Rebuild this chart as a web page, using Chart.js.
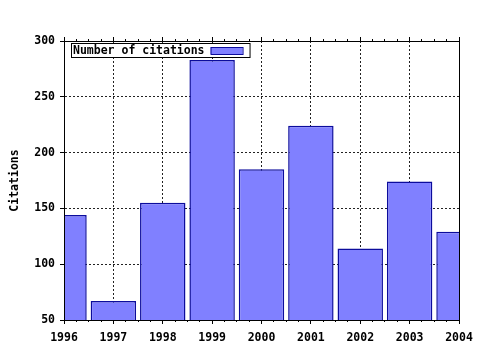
<!DOCTYPE html>
<html>
<head>
<meta charset="utf-8">
<script src="https://cdn.jsdelivr.net/npm/chart.js@4/dist/chart.umd.min.js"></script>
<style>
  html, body { margin: 0; padding: 0; background: #fff; }
  #wrap { width: 480px; height: 350px; }
</style>
</head>
<body>
<div id="wrap"><canvas id="citChart" width="480" height="350"></canvas></div>
<script>
// values
const years = [1996, 1997, 1998, 1999, 2000, 2001, 2002, 2003, 2004];
const citations = [144, 67, 155, 283, 185, 224, 114, 174, 129];
const yTicks = [50, 100, 150, 200, 250, 300];
const seriesLabel = 'Number of citations';
const axisTitle = 'Citations';

const FONT = { family: '"DejaVu Sans Mono", monospace', size: 11.5, weight: 'bold' };

// gnuplot-style key: white box with text then a colour sample
const keyBox = {
    id: 'keyBox',
    afterDraw(chart) {
        const { ctx, chartArea } = chart;
        const ds = chart.data.datasets[0];
        ctx.save();
        ctx.font = 'bold 11.5px "DejaVu Sans Mono", monospace';
        const tw = ctx.measureText(ds.label).width;
        const x = chartArea.left + 7;
        const y = chartArea.top + 2;
        const w = tw + 47;
        const h = 14;
        ctx.fillStyle = '#fff';
        ctx.fillRect(x, y, w, h);
        ctx.strokeStyle = '#000';
        ctx.lineWidth = 1;
        ctx.strokeRect(x + 0.5, y + 0.5, w, h);
        ctx.fillStyle = '#000';
        ctx.textBaseline = 'middle';
        ctx.fillText(ds.label, x + 2, y + h / 2 + 1);
        const sx = x + tw + 8;
        ctx.fillStyle = ds.backgroundColor;
        ctx.fillRect(sx, y + 4, 32, 7);
        ctx.strokeStyle = ds.borderColor;
        ctx.strokeRect(sx + 0.5, y + 4.5, 32, 7);
        ctx.restore();
    }
};

new Chart(document.getElementById('citChart'), {
    type: 'bar',
    data: {
        datasets: [{
            label: seriesLabel,
            data: years.map((yr, i) => ({ x: yr, y: citations[i] })),
            backgroundColor: '#8080ff',
            borderColor: '#0c0c9c',
            borderWidth: 1.5,
            barPercentage: 0.92,
            categoryPercentage: 1,
            clip: 0
        }]
    },
    options: {
        responsive: false,
        animation: false,
        layout: { padding: { top: 41, left: 0, right: 0, bottom: 0 } },
        plugins: {
            legend: { display: false },
            tooltip: { enabled: false }
        },
        scales: {
            x: {
                type: 'linear',
                position: 'bottom',
                weight: 1,
                min: years[0],
                max: years[years.length - 1],
                offset: false,
                grid: { offset: false, color: '#222', tickColor: '#000', tickLength: 4 },
                border: { display: true, color: '#000', dash: [2, 2], z: 1 },
                ticks: {
                    stepSize: 1, autoSkip: false, maxRotation: 0, padding: 7,
                    color: '#000', font: FONT,
                    callback: v => String(v)
                },
                afterFit: s => { s.height = 30; }
            },
            xMinor: {
                type: 'linear',
                position: 'bottom',
                weight: 0,
                min: years[0],
                max: years[years.length - 1],
                offset: false,
                grid: { offset: false, drawOnChartArea: false, tickColor: '#000', tickLength: 2 },
                border: { display: false },
                ticks: { display: false, stepSize: 0.25 },
                afterFit: s => { s.height = 0; }
            },
            xTop: {
                type: 'linear',
                position: 'top',
                min: years[0],
                max: years[years.length - 1],
                offset: false,
                grid: { offset: false, drawOnChartArea: false, tickColor: '#000', tickLength: 4 },
                border: { display: true, color: '#000', z: 1 },
                ticks: { display: false, stepSize: 1 },
                afterFit: s => { s.height = 0; }
            },
            xTopMinor: {
                type: 'linear',
                position: 'top',
                min: years[0],
                max: years[years.length - 1],
                offset: false,
                grid: { offset: false, drawOnChartArea: false, tickColor: '#000', tickLength: 2 },
                border: { display: false },
                ticks: { display: false, stepSize: 0.25 },
                afterFit: s => { s.height = 0; }
            },
            y: {
                position: 'left',
                min: yTicks[0],
                max: yTicks[yTicks.length - 1],
                grid: { color: '#222', tickColor: '#000', tickLength: 4 },
                border: { display: true, color: '#000', dash: [2, 2], z: 1 },
                ticks: { stepSize: 50, padding: 5, color: '#000', font: FONT },
                title: {
                    display: true, text: axisTitle, color: '#000', font: FONT,
                    padding: { top: 8, bottom: 0 }
                },
                afterFit: s => { s.width = 64; }
            },
            yRight: {
                position: 'right',
                min: yTicks[0],
                max: yTicks[yTicks.length - 1],
                grid: { drawOnChartArea: false, drawTicks: false },
                border: { display: true, color: '#000', z: 1 },
                ticks: { display: false },
                afterFit: s => { s.width = 21; }
            }
        }
    },
    plugins: [keyBox]
});
</script>
</body>
</html>
